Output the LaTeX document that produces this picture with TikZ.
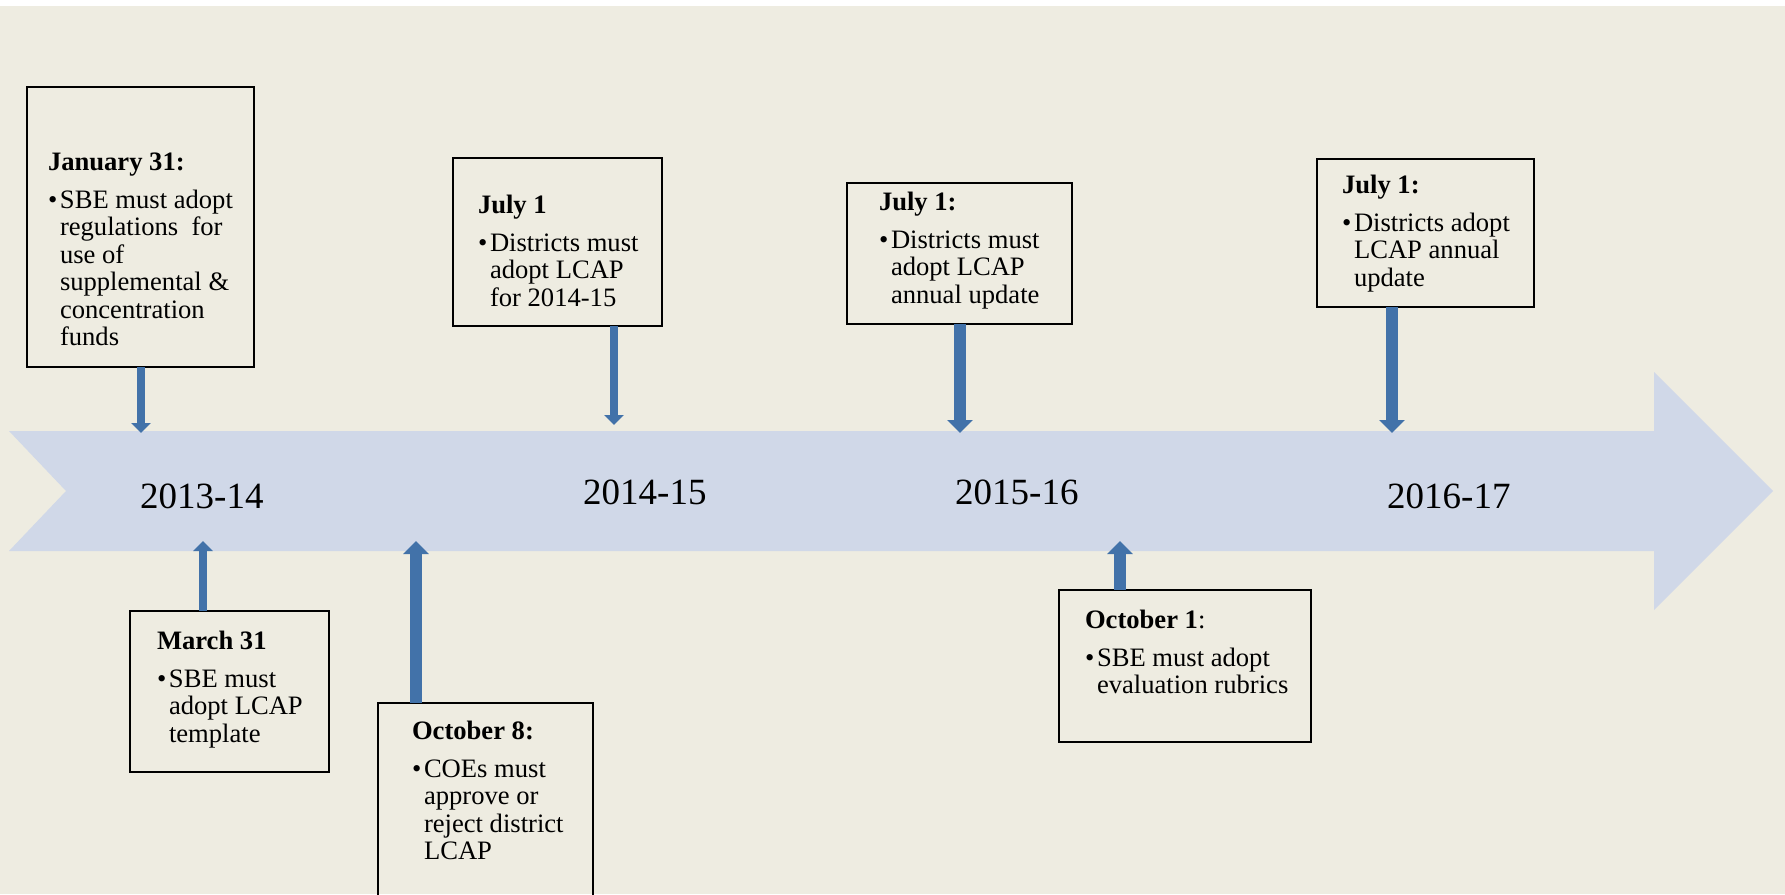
\documentclass[tikz,border=0pt]{standalone}
\usepackage{fontspec}
\setmainfont{Liberation Serif}
\usetikzlibrary{arrows.meta,positioning}

\definecolor{slide}{HTML}{EEECE1}
\definecolor{band}{HTML}{D0D8E8}
\definecolor{pin}{HTML}{4272A9}

\newcommand{\bul}{\makebox[12pt][l]{\textbullet}}
\newcommand{\ind}{\hspace*{12pt}}

\begin{document}
\begin{tikzpicture}[
  x=1pt,y=-1pt,
  box/.style={rectangle,draw=black,line width=2pt,inner sep=0pt,outer sep=0pt},
  txt/.style={inner sep=0pt,outer sep=0pt,align=left,font=\fontsize{26.6}{27.4}\selectfont},
  yr/.style={inner sep=0pt,anchor=base west,font=\fontsize{37}{44}\selectfont},
  thin/.style={-{Triangle[width=19pt,length=10pt]},line width=8pt,draw=pin},
  thick/.style={-{Triangle[width=25pt,length=13pt]},line width=12pt,draw=pin}
]
\useasboundingbox (0,0) rectangle (1785,894);
\fill[white] (0,0) rectangle (1785,894);
\fill[slide] (0,6) rectangle (1785,894);

% timeline band
\fill[band] (9,431) -- (1654,431) -- (1654,372) -- (1773,491) -- (1654,610)
  -- (1654,551) -- (9,551) -- (66,491) -- cycle;

\node[yr] (y13) at (140,508) {2013-14};
\node[yr] (y14) at (583,504) {2014-15};
\node[yr] (y15) at (955,504) {2015-16};
\node[yr] (y16) at (1387,508) {2016-17};

% boxes above the band
\node[box,minimum width=227pt,minimum height=280pt] (jan) at (140.5,227) {};
\node[txt,below right=66pt and 21pt of jan.north west] (jantxt)
  {\textbf{January 31:}\\[10.5pt]\bul SBE must adopt\\\ind regulations\ \ for\\\ind use of\\\ind supplemental \&\\\ind concentration\\\ind funds};

\node[box,minimum width=209pt,minimum height=168pt] (jula) at (557.5,242) {};
\node[txt,below right=37pt and 25pt of jula.north west] (julatxt)
  {\textbf{July 1}\\[10.5pt]\bul Districts must\\\ind adopt LCAP\\\ind for 2014-15};

\node[box,minimum width=225pt,minimum height=141pt] (julb) at (959.5,253.5) {};
\node[txt,below right=9pt and 32pt of julb.north west] (julbtxt)
  {\textbf{July 1:}\\[10.5pt]\bul Districts must\\\ind adopt LCAP\\\ind annual update};

\node[box,minimum width=217pt,minimum height=148pt] (julc) at (1425.5,233) {};
\node[txt,below right=16pt and 25pt of julc.north west] (julctxt)
  {\textbf{July 1:}\\[10.5pt]\bul Districts adopt\\\ind LCAP annual\\\ind update};

% boxes below the band
\node[box,minimum width=199pt,minimum height=161pt] (mar) at (229.5,691.5) {};
\node[txt,below right=20pt and 27pt of mar.north west] (martxt)
  {\textbf{March 31}\\[10.5pt]\bul SBE must\\\ind adopt LCAP\\\ind template};

\node[box,minimum width=215pt,minimum height=207pt] (octa) at (485.5,806.5) {};
\node[txt,below right=18pt and 34pt of octa.north west] (octatxt)
  {\textbf{October 8:}\\[10.5pt]\bul COEs must\\\ind approve or\\\ind reject district\\\ind LCAP};

\node[box,minimum width=252pt,minimum height=152pt] (octb) at (1185,666) {};
\node[txt,below right=20pt and 26pt of octb.north west] (octbtxt)
  {\textbf{October 1}:\\[10.5pt]\bul SBE must adopt\\\ind evaluation rubrics};

% pins onto the band
\coordinate (p1) at (141,433);
\coordinate (p2) at (614,425);
\coordinate (p3) at (960,433);
\coordinate (p4) at (1392,433);
\coordinate (p5) at (203,541);
\coordinate (p6) at (416,541);
\coordinate (p7) at (1120,541);
\draw[thin] (jan.south -| p1) -- (p1);
\draw[thin] (jula.south -| p2) -- (p2);
\draw[thick] (julb.south -| p3) -- (p3);
\draw[thick] (julc.south -| p4) -- (p4);
\draw[thin] (mar.north -| p5) -- (p5);
\draw[thick] (octa.north -| p6) -- (p6);
\draw[thick] (octb.north -| p7) -- (p7);
\end{tikzpicture}
\end{document}
